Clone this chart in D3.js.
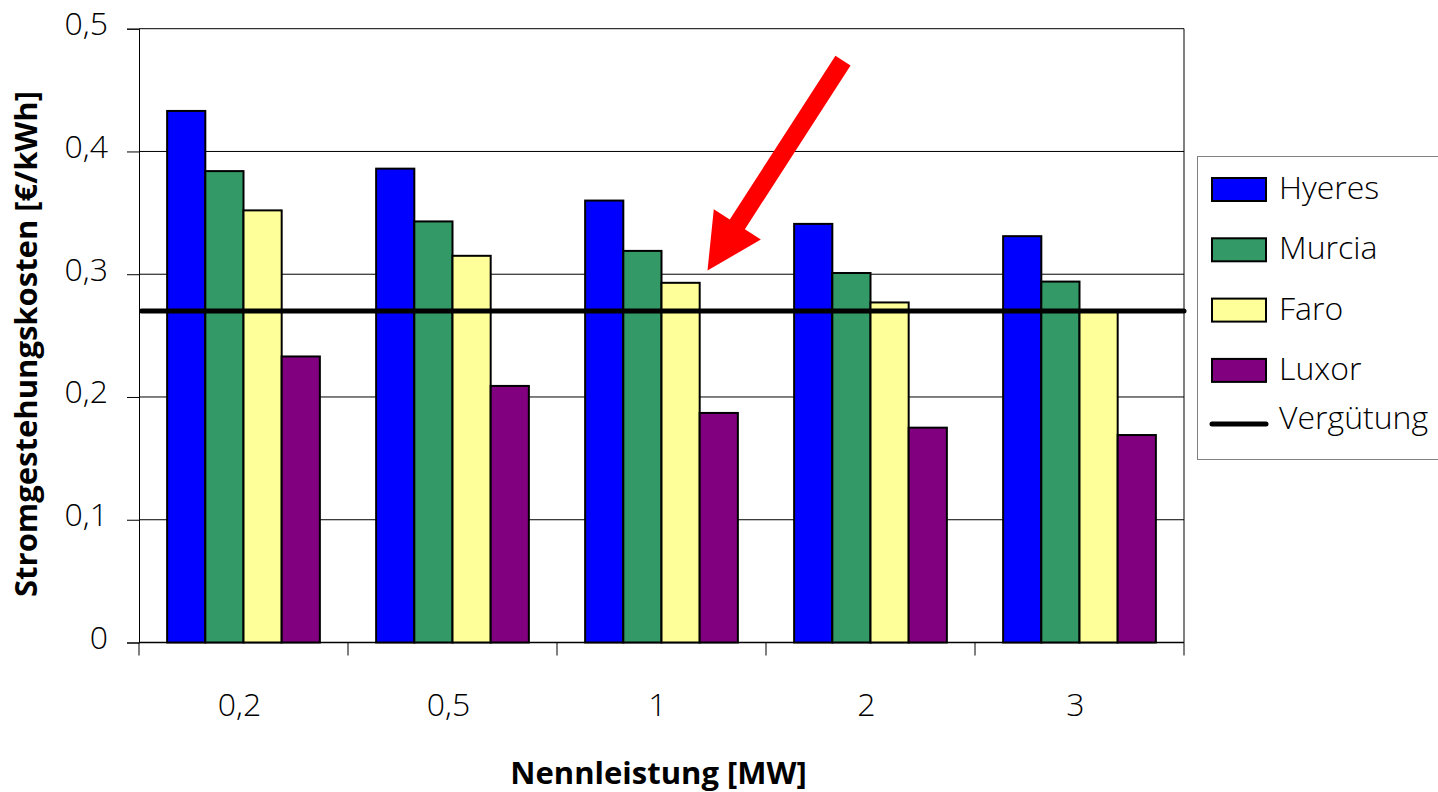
<!DOCTYPE html>
<html>
<head>
<meta charset="utf-8">
<script src="https://cdn.jsdelivr.net/npm/d3@7"></script>
<style>
  html, body { margin: 0; padding: 0; background: #fff; }
  svg { display: block; }
  text { font-family: "Open Sans", "DejaVu Sans", sans-serif; fill: #000; }
</style>
</head>
<body>
<svg id="chart" width="1438" height="792"></svg>
<script>
// ---------- data ----------
const categories = ["0,2", "0,5", "1", "2", "3"];
const seriesNames = ["Hyeres", "Murcia", "Faro", "Luxor"];
const hyeres = [0.433, 0.386, 0.360, 0.341, 0.331];
const murcia = [0.384, 0.343, 0.319, 0.301, 0.294];
const faro   = [0.352, 0.315, 0.293, 0.277, 0.270];
const luxor  = [0.233, 0.209, 0.187, 0.175, 0.169];
const verguetung = 0.27;
const verguetungLabel = "Vergütung";
const yTicks = [0, 0.1, 0.2, 0.3, 0.4, 0.5];
const seriesColors = ["#0000FF", "#339966", "#FFFF99", "#800080"];
const xTitle = "Nennleistung [MW]";
const yTitle = "Stromgestehungskosten [€/kWh]";

const seriesValues = [hyeres, murcia, faro, luxor];

// ---------- layout ----------
const svg = d3.select("#chart");
svg.append("rect").attr("width", 1438).attr("height", 792).attr("fill", "#fff");

const plot = { left: 139, right: 1184, top: 28.7, bottom: 642.5 };

const x0 = d3.scaleBand().domain(categories).range([plot.left, plot.right]).paddingInner(0).paddingOuter(0);
const x1 = d3.scaleBand().domain(seriesNames).range([0, x0.bandwidth()]).paddingInner(0).paddingOuter(0.737);
const y = d3.scaleLinear().domain([0, 0.5]).range([plot.bottom, plot.top]);

const locale = d3.formatLocale({ decimal: ",", thousands: ".", grouping: [3], currency: ["", "€"] });
const fmt = v => v === 0 ? "0" : locale.format(".1f")(v);

// gridlines
svg.append("g").selectAll("line").data(yTicks.filter(d => d > 0)).join("line")
  .attr("x1", plot.left).attr("x2", plot.right)
  .attr("y1", d => y(d)).attr("y2", d => y(d))
  .attr("stroke", "#000").attr("stroke-width", 1);

// right border of plot area
svg.append("line").attr("x1", plot.right).attr("x2", plot.right)
  .attr("y1", plot.top).attr("y2", plot.bottom)
  .attr("stroke", "#000").attr("stroke-width", 1);

// y axis
const yAxis = d3.axisLeft(y).tickValues(yTicks).tickFormat(fmt).tickSize(12).tickPadding(19);
const gy = svg.append("g").attr("transform", `translate(${plot.left},0)`).call(yAxis);
gy.select(".domain").attr("stroke", "#000").attr("stroke-width", 1);
gy.selectAll(".tick line").attr("stroke", "#000").attr("stroke-width", 1);
gy.selectAll(".tick text")
  .attr("font-family", "Open Sans").attr("font-size", 32).attr("font-weight", 300).attr("fill", "#000")
  .attr("dy", 6).attr("dominant-baseline", "auto");

// x axis with ticks at category boundaries
const gx = svg.append("g");
gx.append("line").attr("x1", plot.left).attr("x2", plot.right)
  .attr("y1", plot.bottom).attr("y2", plot.bottom)
  .attr("stroke", "#000").attr("stroke-width", 1.3);
const boundaries = categories.map(c => x0(c)).concat([x0(categories[categories.length - 1]) + x0.bandwidth()]);
gx.selectAll("line.tk").data(boundaries).join("line").attr("class", "tk")
  .attr("x1", d => d).attr("x2", d => d)
  .attr("y1", plot.bottom).attr("y2", plot.bottom + 13)
  .attr("stroke", "#000").attr("stroke-width", 1);
gx.selectAll("text").data(categories).join("text")
  .attr("x", d => x0(d) + x0.bandwidth() / 2 - 4)
  .attr("y", 716)
  .attr("text-anchor", "middle")
  .attr("font-size", 32).attr("font-weight", 300)
  .text(d => d);

// bars
const groups = svg.append("g").selectAll("g").data(categories).join("g")
  .attr("transform", c => `translate(${x0(c)},0)`);
groups.selectAll("rect")
  .data((c, ci) => seriesNames.map((s, si) => ({ s, si, v: seriesValues[si][ci] })))
  .join("rect")
  .attr("x", d => x1(d.s))
  .attr("width", x1.bandwidth())
  .attr("y", d => y(d.v))
  .attr("height", d => y(0) - y(d.v))
  .attr("fill", d => seriesColors[d.si])
  .attr("stroke", "#000").attr("stroke-width", 2);

// Vergütung line
svg.append("line")
  .attr("x1", plot.left + 2.5).attr("x2", plot.right)
  .attr("y1", y(verguetung)).attr("y2", y(verguetung))
  .attr("stroke", "#000").attr("stroke-width", 5).attr("stroke-linecap", "round");

// red arrow annotation (pointing at Faro bar of category "1")
(function () {
  const cx = x0("1") + x0.bandwidth() / 2;
  const tip = [cx + 46, y(0.303)];
  const tail = [cx + 181.5, y(0.474)];
  const dx = tip[0] - tail[0], dy = tip[1] - tail[1];
  const len = Math.hypot(dx, dy);
  const ang = Math.atan2(dy, dx) * 180 / Math.PI;
  const headLen = 55, headHalf = 28, shaftHalf = 9;
  const pts = [
    [0, -shaftHalf], [len - headLen, -shaftHalf], [len - headLen, -headHalf],
    [len, 0],
    [len - headLen, headHalf], [len - headLen, shaftHalf], [0, shaftHalf]
  ];
  svg.append("polygon")
    .attr("points", pts.map(p => p.join(",")).join(" "))
    .attr("fill", "#FF0000")
    .attr("transform", `translate(${tail[0]},${tail[1]}) rotate(${ang})`);
})();

// axis titles
svg.append("text")
  .attr("x", (plot.left + plot.right) / 2 - 3).attr("y", 784)
  .attr("text-anchor", "middle").attr("font-weight", "bold").attr("font-size", 31)
  .text(xTitle);
svg.append("text")
  .attr("transform", `translate(37,344) rotate(-90)`)
  .attr("text-anchor", "middle").attr("font-weight", "bold").attr("font-size", 31)
  .text(yTitle);

// legend
const lg = svg.append("g");
lg.append("rect").attr("x", 1197.5).attr("y", 156.5).attr("width", 260).attr("height", 303)
  .attr("fill", "#fff").attr("stroke", "#808080").attr("stroke-width", 1);
const rowY = i => 189.5 + i * 60.3;
seriesNames.forEach((s, i) => {
  lg.append("rect").attr("x", 1212).attr("y", rowY(i) - 11.5).attr("width", 54).attr("height", 23)
    .attr("fill", seriesColors[i]).attr("stroke", "#000").attr("stroke-width", 2);
  lg.append("text").attr("x", 1279).attr("y", rowY(i) + 9.5).attr("font-size", 32).attr("font-weight", 300).text(s);
});
const vy = rowY(3) + 53.5;
lg.append("line").attr("x1", 1212).attr("x2", 1266).attr("y1", vy).attr("y2", vy)
  .attr("stroke", "#000").attr("stroke-width", 5).attr("stroke-linecap", "round");
lg.append("text").attr("x", 1279).attr("y", vy + 5).attr("font-size", 32).attr("font-weight", 300).text(verguetungLabel);
</script>
</body>
</html>
